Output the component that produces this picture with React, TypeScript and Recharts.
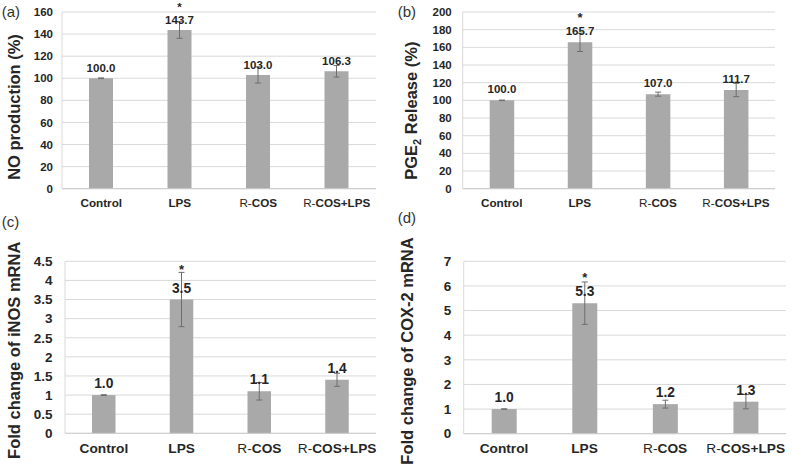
import React from 'react'
import { BarChart, Bar, XAxis, YAxis, CartesianGrid, ErrorBar, LabelList } from 'recharts'

// treatment groups shared by all four panels
const groups = ['Control', 'LPS', 'R-COS', 'R-COS+LPS']
const marks = ['', '*', '', '']

// (a) NO production (%)
const noValues = [100.0, 143.7, 103.0, 106.3]
const noErrors = [0.3, 7.5, 7.3, 5.2]
const noTicks = [0, 20, 40, 60, 80, 100, 120, 140, 160]

// (b) PGE2 release (%)
const pgeValues = [100.0, 165.7, 107.0, 111.7]
const pgeErrors = [0.3, 10.4, 2.3, 7.5]
const pgeTicks = [0, 20, 40, 60, 80, 100, 120, 140, 160, 180, 200]

// (c) iNOS mRNA fold change
const inosValues = [1.0, 3.5, 1.1, 1.4]
const inosErrors = [0.01, 0.71, 0.23, 0.17]
const inosTicks = [0, 0.5, 1, 1.5, 2, 2.5, 3, 3.5, 4, 4.5]

// (d) COX-2 mRNA fold change
const coxValues = [1.0, 5.3, 1.2, 1.3]
const coxErrors = [0.01, 0.86, 0.16, 0.29]
const coxTicks = [0, 1, 2, 3, 4, 5, 6, 7]

const INK = '#262626'
const GRID = '#d9d9d9'
const BAR = '#a9a9a9'
const FONT = '"Liberation Sans", Arial, sans-serif'

const rows = (values: number[], errors: number[]) =>
  groups.map((name, i) => ({ name, value: values[i], err: errors[i], mark: marks[i] }))

// "R-" prefix is set in a light weight, the rest bold
const GroupTick = (props: any) => {
  const { x, y, payload, fontSize } = props
  const name: string = payload.value
  const prefix = name.startsWith('R-') ? 'R-' : ''
  return (
    <text x={x} y={y} dy="0.71em" textAnchor="middle" fontSize={fontSize} fontWeight="bold" fill={INK}>
      {prefix && <tspan fontWeight="normal">{prefix}</tspan>}
      <tspan>{name.slice(prefix.length)}</tspan>
    </text>
  )
}

const box = (props: any) => {
  const vb = props.viewBox || {}
  const x = props.x ?? vb.x
  const y = props.y ?? vb.y
  const width = props.width ?? vb.width
  return { x, y, width }
}

const valueLabel = (fontSize: number, gap: number) => (props: any) => {
  const { x, y, width } = box(props)
  return (
    <text x={x + width / 2} y={y - gap} textAnchor="middle" fontSize={fontSize} fontWeight="bold" fill={INK}>
      {Number(props.value).toFixed(1)}
    </text>
  )
}

const starLabel = (gap: number, lift: number, fontSize: number) => (props: any) => {
  if (!props.value) return null
  const { x, y, width } = box(props)
  return (
    <text x={x + width / 2} y={y - gap - lift} textAnchor="middle" fontSize={fontSize} fontWeight="bold" fill={INK}>
      {props.value}
    </text>
  )
}

type PanelProps = {
  left: number
  top: number
  values: number[]
  errors: number[]
  ticks: number[]
  yWidth: number
  rightGap: number
  topGap: number
  xHeight: number
  barSize: number
  tickFont: number
  tickGap: number
  catFont: number
  valueFont: number
  labelGap: number
  starLift: number
  starFont: number
  title: React.ReactNode
  titleX: number
  titleY: number
}

const Panel = (p: PanelProps) => {
  const data = rows(p.values, p.errors)
  const yTitle = () => (
    <text
      x={p.titleX}
      y={p.titleY}
      transform={`rotate(-90, ${p.titleX}, ${p.titleY})`}
      textAnchor="middle"
      fontSize={16.5}
      fontWeight="bold"
      fill={INK}
    >
      {p.title}
    </text>
  )
  return (
    <div style={{ position: 'absolute', left: p.left, top: p.top }}>
      <BarChart
        width={396}
        height={232}
        data={data}
        margin={{ top: p.topGap, right: p.rightGap, bottom: 0, left: 0 }}
      >
        <CartesianGrid vertical={false} stroke={GRID} />
        <XAxis
          dataKey="name"
          interval={0}
          height={p.xHeight}
          tickLine={false}
          tickSize={0}
          tickMargin={10}
          axisLine={{ stroke: '#cccccc' }}
          tick={(t: any) => <GroupTick {...t} fontSize={p.catFont} />}
        />
        <YAxis
          type="number"
          domain={[p.ticks[0], p.ticks[p.ticks.length - 1]]}
          ticks={p.ticks}
          interval={0}
          width={p.yWidth}
          tickLine={false}
          tickSize={0}
          tickMargin={p.tickGap}
          axisLine={{ stroke: GRID }}
          tick={{ fontSize: p.tickFont, fontWeight: 'bold', fill: INK }}
          label={yTitle}
        />
        <Bar dataKey="value" fill={BAR} barSize={p.barSize} isAnimationActive={false}>
          <ErrorBar dataKey="err" direction="y" width={3} stroke="#6e6e6e" strokeWidth={1} isAnimationActive={false} />
          <LabelList dataKey="value" content={valueLabel(p.valueFont, p.labelGap)} />
          <LabelList dataKey="mark" content={starLabel(p.labelGap, p.starLift, p.starFont)} />
        </Bar>
      </BarChart>
    </div>
  )
}

export default function App() {
  return (
    <div style={{ position: 'absolute', left: 0, top: 0, width: 792, height: 464, background: '#fff', fontFamily: FONT }}>
      <Panel
        left={0}
        top={0}
        values={noValues}
        errors={noErrors}
        ticks={noTicks}
        yWidth={62}
        rightGap={20}
        topGap={12}
        xHeight={43.3}
        barSize={24}
        tickFont={11.5}
        tickGap={9}
        catFont={11.7}
        valueFont={11.5}
        labelGap={6}
        starLift={13}
        starFont={11.5}
        title="NO production (%)"
        titleX={20.3}
        titleY={107}
      />
      <Panel
        left={396}
        top={0}
        values={pgeValues}
        errors={pgeErrors}
        ticks={pgeTicks}
        yWidth={66.7}
        rightGap={17}
        topGap={12}
        xHeight={43.3}
        barSize={24.5}
        tickFont={11.5}
        tickGap={11}
        catFont={11.7}
        valueFont={11.5}
        labelGap={7}
        starLift={13}
        starFont={13}
        title={
          <>
            <tspan>PGE</tspan>
            <tspan dy={4} fontSize={11}>2</tspan>
            <tspan dy={-4}> Release (%)</tspan>
          </>
        }
        titleX={21.5}
        titleY={110.7}
      />
      <Panel
        left={0}
        top={232}
        values={inosValues}
        errors={inosErrors}
        ticks={inosTicks}
        yWidth={65}
        rightGap={20}
        topGap={29.3}
        xHeight={30.7}
        barSize={23.5}
        tickFont={13.5}
        tickGap={12.5}
        catFont={13.7}
        valueFont={13.8}
        labelGap={7}
        starLift={19}
        starFont={13}
        title="Fold change of iNOS mRNA"
        titleX={20}
        titleY={118.3}
      />
      <Panel
        left={396}
        top={232}
        values={coxValues}
        errors={coxErrors}
        ticks={coxTicks}
        yWidth={67.7}
        rightGap={6}
        topGap={29.3}
        xHeight={30.3}
        barSize={25}
        tickFont={13.5}
        tickGap={12.5}
        catFont={13.7}
        valueFont={13.8}
        labelGap={7}
        starLift={14}
        starFont={13}
        title="Fold change of COX-2 mRNA"
        titleX={17}
        titleY={119}
      />
      <svg width={792} height={464} style={{ position: 'absolute', left: 0, top: 0, pointerEvents: 'none' }}>
        <g fontSize={15} fill="#333" fontFamily={FONT}>
          <text x={1.7} y={16.8}>(a)</text>
          <text x={397.7} y={16.8}>(b)</text>
          <text x={1.7} y={226.5}>(c)</text>
          <text x={397.7} y={223.3}>(d)</text>
        </g>
      </svg>
    </div>
  )
}
